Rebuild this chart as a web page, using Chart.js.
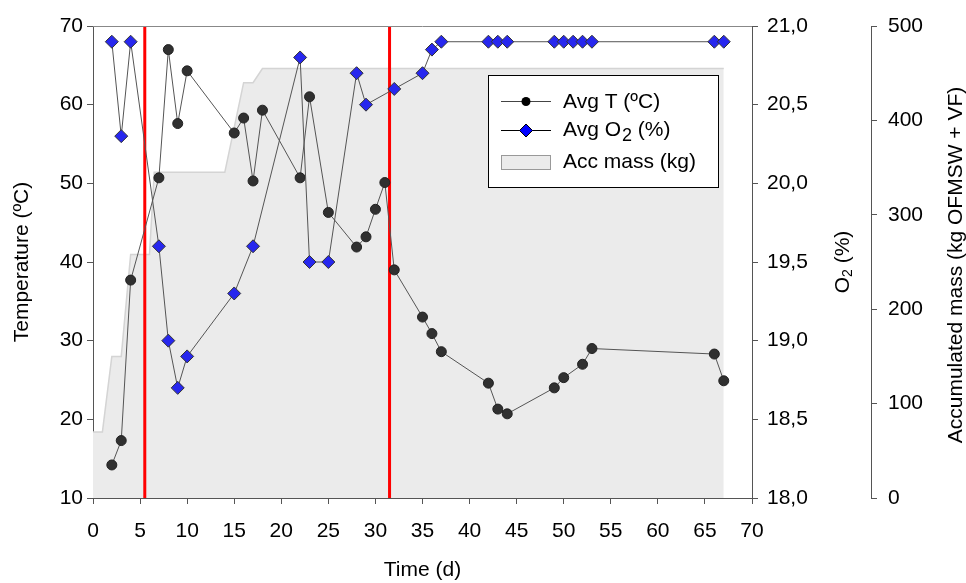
<!DOCTYPE html>
<html>
<head>
<meta charset="utf-8">
<script src="https://cdn.jsdelivr.net/npm/chart.js@4.4.1/dist/chart.umd.min.js"></script>
<style>
html,body{margin:0;padding:0;background:#fff;}
#wrap{width:966px;height:583px;}
</style>
</head>
<body>
<div id="wrap"><canvas id="c" width="966" height="583"></canvas></div>
<script>
// ---- data ----
const tempDays = [2,3,4,7,8,9,10,15,16,17,18,22,23,25,28,29,30,31,32,35,36,37,42,43,44,49,50,52,53,66,67];
const tempVals = [14.2,17.3,37.7,50.7,67.0,57.6,64.3,56.4,58.3,50.3,59.3,50.7,61.0,46.3,41.9,43.2,46.7,50.1,39.0,33.0,30.9,28.6,24.6,21.3,20.7,24.0,25.3,27.0,29.0,28.3,24.9];

const o2Days = [2,3,4,7,8,9,10,15,17,22,23,25,28,29,32,35,36,37,42,43,44,49,50,51,52,53,66,67];
const o2Vals = [20.9,20.3,20.9,19.6,19.0,18.7,18.9,19.3,19.6,20.8,19.5,19.5,20.7,20.5,20.6,20.7,20.85,20.9,20.9,20.9,20.9,20.9,20.9,20.9,20.9,20.9,20.9,20.9];

const massDays = [0,1,2,3,4,6,6.5,14,16,17,18,67];
const massVals = [70,70,150,150,258,258,345,345,440,440,455,455];

const phaseDays = [5.5, 31.5];

const xTicks = [0,70,5];      // min, max, step
const tTicks = [10,70,10];
const o2Ticks = [18,21,0.5];
const massTicks = [0,500,100];

const legendLabels = ['Avg T (\u00baC)', 'Avg O', '2', ' (%)', 'Acc mass (kg)'];
const xTitle = 'Time (d)';
const tTitle = 'Temperature (\u00baC)';
const o2Title = ['O', '2', ' (%)'];
const massTitle = 'Accumulated mass (kg OFMSW + VF)';

// ---- chart ----
const F = "'Liberation Sans', Arial, sans-serif";
const AX = '#555';
const pts = (xs, ys) => xs.map((d, i) => ({x: d, y: ys[i]}));

const phaseSets = phaseDays.map(d => ({
  label: 'phase', data: [{x: d, y: tTicks[0]}, {x: d, y: tTicks[1]}],
  yAxisID: 'y', borderColor: '#ff0000', borderWidth: 3, pointRadius: 0, fill: false, order: 2
}));

function drawParts(ctx, x, y, parts, rot) {
  ctx.save();
  ctx.translate(x, y);
  if (rot) ctx.rotate(rot);
  ctx.textBaseline = 'middle';
  ctx.textAlign = 'left';
  let total = 0;
  parts.forEach(p => { ctx.font = p.size + 'px ' + F; total += ctx.measureText(p.t).width; });
  let cx = -total / 2;
  parts.forEach(p => {
    ctx.font = p.size + 'px ' + F;
    ctx.fillStyle = '#000';
    ctx.fillText(p.t, cx, p.dy || 0);
    cx += ctx.measureText(p.t).width;
  });
  ctx.restore();
}

const decor = {
  id: 'decor',
  afterDraw(chart) {
    const ctx = chart.ctx;
    const ca = chart.chartArea;
    // top frame
    ctx.save();
    ctx.strokeStyle = '#888';
    ctx.lineWidth = 1;
    ctx.beginPath();
    ctx.moveTo(ca.left, ca.top + 0.5);
    ctx.lineTo(ca.right, ca.top + 0.5);
    ctx.stroke();
    ctx.restore();

    // right axis titles (read bottom to top)
    drawParts(ctx, 843, 262, [
      {t: o2Title[0], size: 21}, {t: o2Title[1], size: 14, dy: 5}, {t: o2Title[2], size: 21}
    ], -Math.PI / 2);
    drawParts(ctx, 956, 265, [{t: massTitle, size: 21}], -Math.PI / 2);

    // legend
    const lx = 488, ly = 75, lw = 231, lh = 113;
    ctx.save();
    ctx.fillStyle = '#fff';
    ctx.fillRect(lx, ly, lw, lh);
    ctx.strokeStyle = '#000';
    ctx.lineWidth = 1;
    ctx.strokeRect(lx + 0.5, ly + 0.5, lw - 1, lh - 1);
    // row 1
    ctx.strokeStyle = '#444';
    ctx.beginPath(); ctx.moveTo(501, 101.5); ctx.lineTo(551, 101.5); ctx.stroke();
    ctx.fillStyle = '#000';
    ctx.beginPath(); ctx.arc(526, 101.5, 4.5, 0, Math.PI * 2); ctx.fill();
    // row 2
    ctx.strokeStyle = '#000';
    ctx.beginPath(); ctx.moveTo(501, 130.5); ctx.lineTo(551, 130.5); ctx.stroke();
    ctx.fillStyle = '#0000ff';
    ctx.beginPath(); ctx.moveTo(526, 124); ctx.lineTo(532.5, 130.5); ctx.lineTo(526, 137); ctx.lineTo(519.5, 130.5); ctx.closePath();
    ctx.fill(); ctx.strokeStyle = '#000'; ctx.stroke();
    // row 3
    ctx.fillStyle = '#ebebeb';
    ctx.fillRect(501, 155, 50, 15);
    ctx.strokeStyle = '#999';
    ctx.strokeRect(501.5, 155.5, 49, 14);
    ctx.restore();
    ctx.save();
    ctx.fillStyle = '#000';
    ctx.textBaseline = 'middle';
    ctx.textAlign = 'left';
    ctx.font = '21px ' + F;
    ctx.fillText(legendLabels[0], 563, 102);
    let x = 563;
    ctx.fillText(legendLabels[1], x, 130);
    x += ctx.measureText(legendLabels[1]).width + 1;
    ctx.font = '18px ' + F;
    ctx.fillText(legendLabels[2], x, 136);
    x += ctx.measureText(legendLabels[2]).width;
    ctx.font = '21px ' + F;
    ctx.fillText(legendLabels[3], x, 130);
    ctx.fillText(legendLabels[4], 563, 162);
    ctx.restore();
  }
};

const tickFont = {family: F, size: 21};
const comma = v => Number(v).toFixed(1).replace('.', ',');

new Chart(document.getElementById('c'), {
  type: 'line',
  data: {
    datasets: [
      {
        label: 'Avg O2 (%)', data: pts(o2Days, o2Vals), yAxisID: 'yO2',
        borderColor: '#555', borderWidth: 1, fill: false, tension: 0,
        pointStyle: 'rectRot', pointRadius: 6.5, pointBackgroundColor: '#2727ee',
        pointBorderColor: '#333', pointBorderWidth: 1, order: 0
      },
      {
        label: 'Avg T (ºC)', data: pts(tempDays, tempVals), yAxisID: 'y',
        borderColor: '#555', borderWidth: 1, fill: false, tension: 0,
        pointStyle: 'circle', pointRadius: 5, pointBackgroundColor: '#303030',
        pointBorderColor: '#222', pointBorderWidth: 1, order: 1
      },
      ...phaseSets,
      {
        label: 'Acc mass (kg)', data: pts(massDays, massVals), yAxisID: 'yMass',
        borderColor: '#d4d4d4', borderWidth: 1.5, backgroundColor: '#ebebeb',
        fill: 'origin', pointRadius: 0, tension: 0, order: 3
      }
    ]
  },
  options: {
    responsive: false,
    animation: false,
    devicePixelRatio: 1,
    layout: {padding: {top: 26, left: 0, right: 0, bottom: 0}},
    plugins: {legend: {display: false}, tooltip: {enabled: false}},
    scales: {
      x: {
        type: 'linear', position: 'bottom', min: xTicks[0], max: xTicks[1],
        ticks: {stepSize: xTicks[2], font: tickFont, color: '#000', padding: 15, maxRotation: 0, autoSkip: false},
        grid: {drawOnChartArea: false, drawTicks: true, tickLength: 6, color: AX},
        border: {display: true, color: AX, width: 1},
        title: {display: true, text: xTitle, font: {family: F, size: 21}, color: '#000', padding: {top: 0, bottom: 0}},
        afterFit(s) { s.height = 85; }
      },
      y: {
        type: 'linear', position: 'left', min: tTicks[0], max: tTicks[1],
        ticks: {stepSize: tTicks[2], font: tickFont, color: '#000', padding: 4},
        grid: {drawOnChartArea: false, tickLength: 6, color: AX},
        border: {display: true, color: AX, width: 1},
        title: {display: true, text: tTitle, font: {family: F, size: 21}, color: '#000', padding: {top: 10, bottom: 0}},
        afterFit(s) { s.width = 93; }
      },
      yO2: {
        type: 'linear', position: 'right', weight: 1, min: o2Ticks[0], max: o2Ticks[1],
        ticks: {stepSize: o2Ticks[2], font: tickFont, color: '#000', padding: 9, callback: comma},
        grid: {drawOnChartArea: false, tickLength: 6, color: AX},
        border: {display: true, color: AX, width: 1},
        afterFit(s) { s.width = 119; }
      },
      yMass: {
        type: 'linear', position: 'right', weight: 2, min: massTicks[0], max: massTicks[1],
        ticks: {stepSize: massTicks[2], font: tickFont, color: '#000', padding: 11},
        grid: {drawOnChartArea: false, tickLength: 6, color: AX},
        border: {display: true, color: AX, width: 1},
        afterFit(s) { s.width = 95; }
      }
    }
  },
  plugins: [decor]
});
</script>
</body>
</html>
